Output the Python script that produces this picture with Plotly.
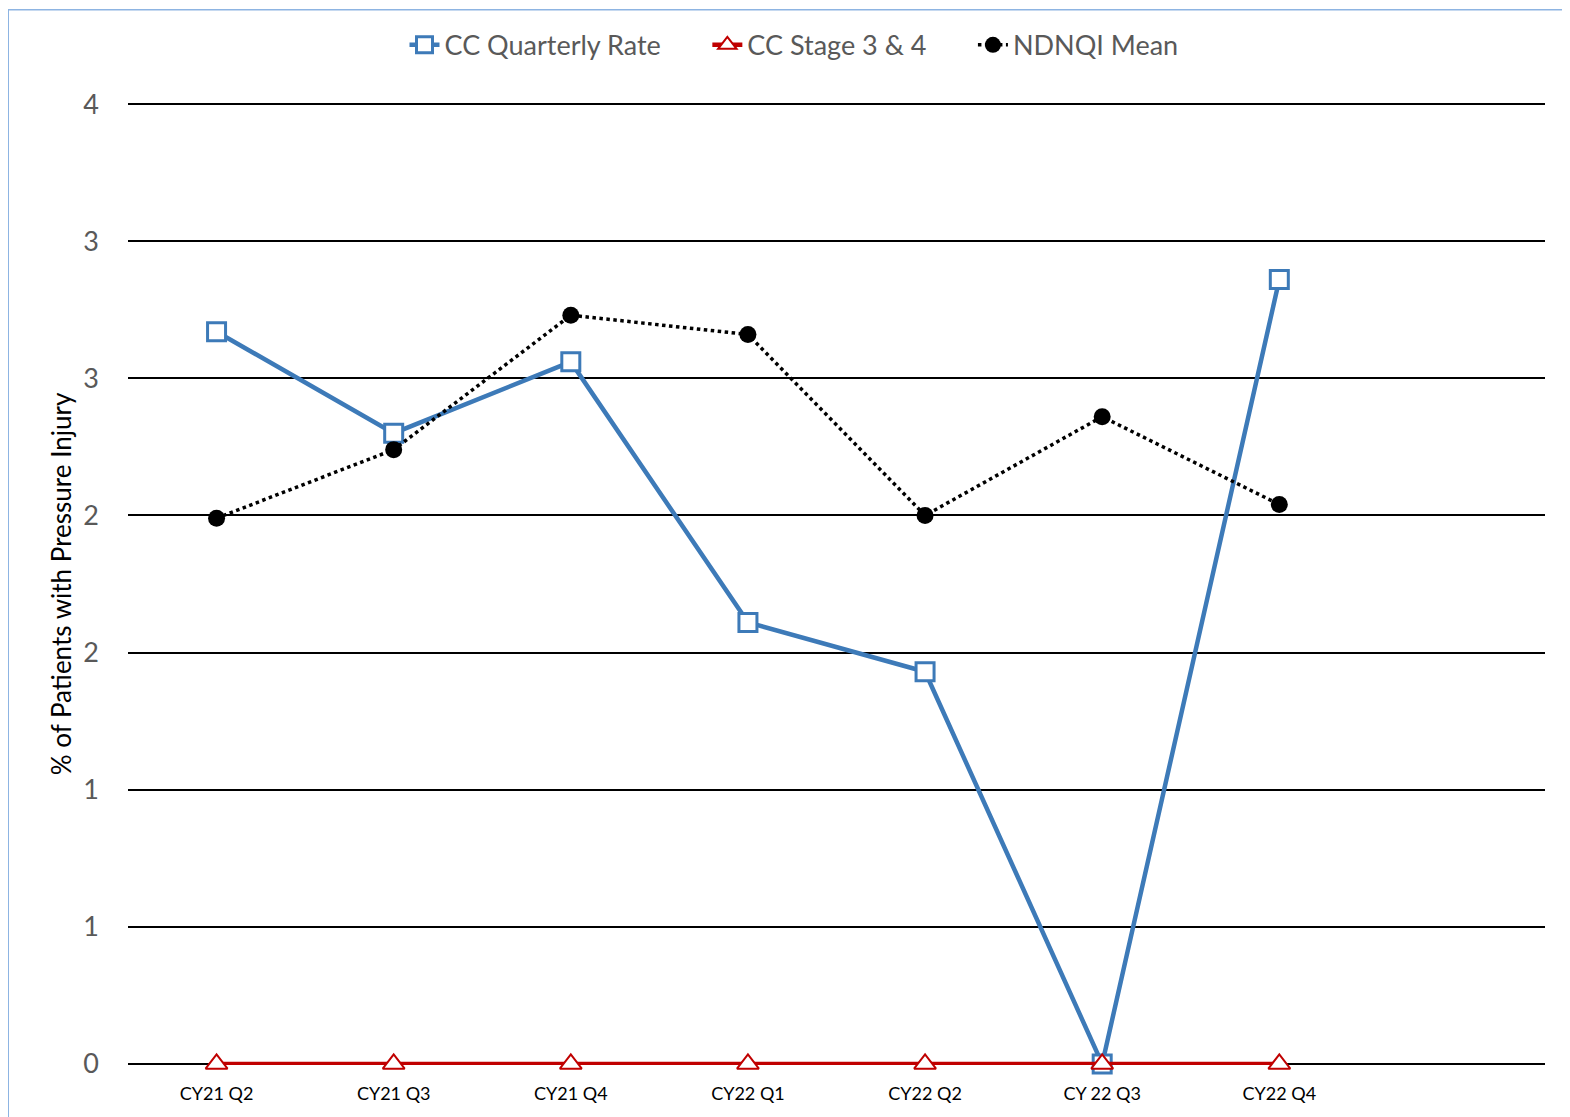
import plotly.graph_objects as go

quarters = ["CY21 Q2", "CY21 Q3", "CY21 Q4", "CY22 Q1", "CY22 Q2", "CY 22 Q3", "CY22 Q4"]
cc_rate = [2.67, 2.30, 2.56, 1.61, 1.43, 0.0, 2.86]
cc_stage34 = [0, 0, 0, 0, 0, 0, 0]
ndnqi_mean = [1.99, 2.24, 2.73, 2.66, 2.00, 2.36, 2.04]
y_ticks = [0, 0.5, 1, 1.5, 2, 2.5, 3, 3.5]
y_labels = ["0", "1", "1", "2", "2", "3", "3", "4"]

x = list(range(len(quarters)))

fig = go.Figure()
fig.add_trace(go.Scatter(x=x, y=cc_rate, name="CC Quarterly Rate      ", mode="lines+markers",
                         cliponaxis=False,
                         line=dict(color="#3d7ab8", width=4.5),
                         marker=dict(symbol="square", size=18, color="white",
                                     line=dict(color="#3d7ab8", width=3))))
fig.add_trace(go.Scatter(x=x, y=cc_stage34, name="CC Stage 3 & 4      ", mode="lines+markers",
                         cliponaxis=False,
                         line=dict(color="#c00000", width=4.5),
                         marker=dict(symbol="triangle-up", size=19, color="white",
                                     line=dict(color="#c00000", width=2))))
fig.add_trace(go.Scatter(x=x, y=ndnqi_mean, name="NDNQI Mean", mode="lines+markers",
                         cliponaxis=False,
                         line=dict(color="black", width=3.5, dash="dot"),
                         marker=dict(symbol="circle", size=17, color="black")))

# outer chart border (light blue, like the Excel chart frame)
fig.add_shape(type="rect", xref="paper", yref="paper",
              x0=-0.0845, x1=1.05, y0=-0.1, y1=1.097,
              line=dict(color="#8db4e2", width=1.5))

fig.update_layout(
    width=1570, height=1117,
    margin=dict(l=120, r=33, t=95, b=60, autoexpand=False),
    plot_bgcolor="white", paper_bgcolor="white",
    font=dict(family="Lato, Open Sans, sans-serif", color="#595959"),
    showlegend=True,
    legend=dict(orientation="h", x=0.47, xanchor="center", y=1.06, yanchor="middle",
                font=dict(size=27, color="#595959"),
                traceorder="normal"),
    xaxis=dict(range=[-0.5, 7.5], tickvals=x, ticktext=quarters,
               tickfont=dict(size=18, color="black"), showgrid=False,
               zeroline=False, showline=False, ticks="", ticklabelstandoff=16),
    yaxis=dict(range=[-0.004, 3.504], tickvals=y_ticks, ticktext=y_labels,
               tickfont=dict(size=27, color="#595959"), showgrid=True,
               gridcolor="black", gridwidth=1.5, zeroline=False, showline=False,
               ticks="", ticklabelstandoff=28,
               title=dict(text="% of Patients with Pressure Injury",
                          font=dict(size=26, color="black"), standoff=4)),
)

fig.write_html("out.html")
